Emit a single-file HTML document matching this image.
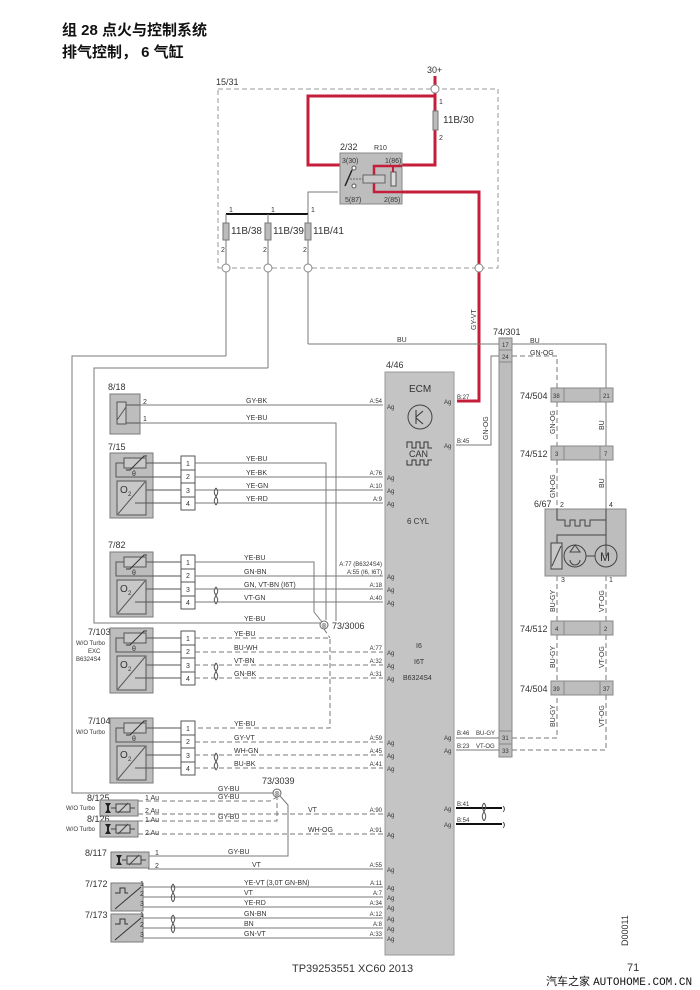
<!DOCTYPE html>
<html><head><meta charset="utf-8"><style>
body{margin:0;background:#fff;width:700px;height:990px;overflow:hidden}
svg{display:block}
text{font-family:"Liberation Sans","Noto Sans CJK SC",sans-serif;fill:#333}
.w{stroke:#7a7a7a;stroke-width:1;fill:none}
.d{stroke:#7a7a7a;stroke-width:1;fill:none;stroke-dasharray:5,3}
.r{stroke:#c41e3a;stroke-width:3;fill:none}
.s{font-size:7px}
.m{font-size:9px}
.l{font-size:10px}
.box{fill:#bdbdbd;stroke:#7a7a7a}
</style></head><body>
<svg width="700" height="990" viewBox="0 0 700 990" xmlns="http://www.w3.org/2000/svg">
<defs>
<g id="sen">
<rect x="0" y="0" width="43" height="65" class="box"/>
<rect x="14" y="5" width="22" height="10" fill="#c8c8c8" stroke="#555"/>
<polyline points="16,17 20,17 34,3 37,3" fill="none" stroke="#333"/>
<text x="22" y="23" class="s">θ</text>
<polyline points="14,10 6,10 6,24 71,24" class="w" style="stroke:#555"/>
<line x1="36" y1="10" x2="71" y2="10" stroke="#555"/>
<rect x="7" y="28" width="29" height="34" fill="#c8c8c8" stroke="#555"/>
<line x1="8" y1="61" x2="35" y2="29" stroke="#555"/>
<text x="10" y="40" style="font-size:10px">O</text><text x="18" y="43" style="font-size:6px">2</text>
<line x1="36" y1="37" x2="71" y2="37" stroke="#555"/>
<line x1="25" y1="50" x2="71" y2="50" stroke="#555"/>
<rect x="71" y="3" width="14" height="54" fill="#fff" stroke="#555"/>
<line x1="71" y1="17" x2="85" y2="17" stroke="#555"/><line x1="71" y1="30" x2="85" y2="30" stroke="#555"/><line x1="71" y1="44" x2="85" y2="44" stroke="#555"/>
<text x="76" y="13" class="s">1</text><text x="76" y="26" class="s">2</text><text x="76" y="40" class="s">3</text><text x="76" y="53" class="s">4</text>
<path d="M106,35 C100,42 112,45 106,52 M106,35 C112,42 100,45 106,52" fill="none" stroke="#555"/>
</g>
<g id="valve">
<rect x="0" y="0" width="38" height="16" class="box"/>
<path d="M5,3 h6 l-2,3 v4 l2,3 h-6 l2,-3 v-4 z" fill="#222"/>
<line x1="11" y1="8" x2="16" y2="8" stroke="#444"/>
<rect x="16" y="4" width="14" height="8" fill="#c8c8c8" stroke="#444"/>
<line x1="18" y1="13" x2="28" y2="3" stroke="#444"/>
<line x1="30" y1="8" x2="35" y2="8" stroke="#444"/>
</g>
<g id="hall">
<rect x="0" y="0" width="32" height="28" class="box"/>
<polyline points="4,10 9,10 9,5 14,5 14,10 17,10" fill="none" stroke="#333"/>
<line x1="4" y1="26" x2="30" y2="4" stroke="#333"/>
</g>
<path id="tw" d="M0,0 C-6,7 6,10 0,18 M0,0 C6,7 -6,10 0,18" fill="none" stroke="#555"/>
</defs>

<text x="62" y="35" style="font-size:15px;font-weight:bold;fill:#111">组 28 点火与控制系统</text>
<text x="62" y="57" style="font-size:15px;font-weight:bold;fill:#111">排气控制， 6 气缸</text>

<!-- 15/31 box -->
<rect x="218" y="89" width="280" height="179" fill="none" stroke="#999" stroke-dasharray="5,3"/>
<text x="216" y="85" class="m">15/31</text>
<text x="427" y="73" class="m">30+</text>
<polyline class="r" points="435,76 435,165 402,165"/>
<polyline class="r" points="435,96 308,96 308,165 340,165"/>
<rect x="340" y="153" width="62" height="51" fill="#bdbdbd" stroke="#888"/>
<text x="340" y="150" class="m">2/32</text><text x="374" y="150" class="s">R10</text>
<text x="342" y="163" class="s">3(30)</text><text x="385" y="163" class="s">1(86)</text>
<text x="345" y="202" class="s">5(87)</text><text x="384" y="202" class="s">2(85)</text>
<polyline class="r" style="stroke-width:2.5" points="402,166 374,166 374,192 402,192"/>
<rect x="391" y="172" width="5" height="14" fill="#ddd" stroke="#555"/>
<line x1="393" y1="166" x2="393" y2="172" stroke="#c41e3a" stroke-width="2"/>
<rect x="363" y="175" width="22" height="8" fill="#c8c8c8" stroke="#666"/>
<line x1="352" y1="170" x2="345" y2="186" stroke="#222" stroke-width="1.5"/>
<line x1="350" y1="179" x2="363" y2="179" stroke="#666" stroke-dasharray="2,1"/>
<circle cx="354" cy="168" r="2" fill="#fff" stroke="#555"/>
<circle cx="354" cy="186" r="2" fill="#fff" stroke="#555"/>
<polyline class="r" points="402,192 479,192 479,401 457,401"/>
<circle cx="435" cy="89" r="4" fill="#fff" stroke="#888"/>
<rect x="433" y="111" width="5" height="19" fill="#bbb" stroke="#777"/>
<text x="439" y="104" class="s">1</text><text x="439" y="140" class="s">2</text>
<text x="443" y="123" class="l">11B/30</text>
<polyline class="w" points="338,192 308,192 308,214"/>
<line x1="226" y1="214" x2="308" y2="214" stroke="#111" stroke-width="2"/>
<g class="w">
<line x1="226" y1="214" x2="226" y2="356"/><line x1="268" y1="214" x2="268" y2="368"/><line x1="308" y1="214" x2="308" y2="344"/>
</g>
<g fill="#bbb" stroke="#777">
<rect x="223" y="223" width="6" height="17"/><rect x="265" y="223" width="6" height="17"/><rect x="305" y="223" width="6" height="17"/>
</g>
<text x="229" y="212" class="s">1</text><text x="271" y="212" class="s">1</text><text x="311" y="212" class="s">1</text>
<text x="221" y="252" class="s">2</text><text x="263" y="252" class="s">2</text><text x="303" y="252" class="s">2</text>
<text x="231" y="234" class="l">11B/38</text><text x="273" y="234" class="l">11B/39</text><text x="313" y="234" class="l">11B/41</text>
<g fill="#fff" stroke="#888">
<circle cx="226" cy="268" r="4"/><circle cx="268" cy="268" r="4"/><circle cx="308" cy="268" r="4"/><circle cx="479" cy="268" r="4"/>
</g>
<text transform="translate(476,330) rotate(-90)" class="s">GY-VT</text>

<polyline class="w" points="226,356 72,356 72,793 277,793"/>
<polyline class="w" points="268,368 94,368 94,623 320,623"/>
<polyline class="w" points="308,344 499,344"/>
<text x="397" y="342" class="s">BU</text>

<!-- ECM -->
<rect x="385" y="372" width="69" height="583" fill="#c4c4c4" stroke="#999"/>
<text x="386" y="368" class="m">4/46</text>
<text x="409" y="392" class="l">ECM</text>
<circle cx="420" cy="417" r="12" fill="none" stroke="#444"/>
<path d="M416,410 v14 M416,417 l7,-6 M416,418 l7,6" fill="none" stroke="#333"/>
<polyline points="407,448 407,442 412,442 412,448 416,448 416,442 420,442 420,448 424,448 424,442 428,442 428,448 432,448" fill="none" stroke="#333"/>
<text x="409" y="457" class="m">CAN</text>
<polyline points="407,460 407,465 412,465 412,460 416,460 416,465 420,465 420,460 424,460 424,465 428,465 428,460 432,460" fill="none" stroke="#333"/>
<text x="407" y="524" class="s" style="font-size:8px">6 CYL</text>
<text x="416" y="648" class="s">I6</text><text x="414" y="664" class="s">I6T</text><text x="403" y="680" class="s">B6324S4</text>

<!-- 74/301 -->
<rect x="499" y="338" width="13" height="419" fill="#bdbdbd" stroke="#888"/>
<line x1="499" y1="350" x2="512" y2="350" stroke="#888"/><line x1="499" y1="362" x2="512" y2="362" stroke="#888"/>
<line x1="499" y1="731" x2="512" y2="731" stroke="#888"/><line x1="499" y1="744" x2="512" y2="744" stroke="#888"/>
<text x="502" y="347" style="font-size:6px">17</text><text x="502" y="359" style="font-size:6px">24</text>
<text x="502" y="740" style="font-size:6px">31</text><text x="502" y="753" style="font-size:6px">33</text>
<text x="493" y="335" class="m">74/301</text>
<polyline class="w" points="512,344 606,344 606,388"/><text x="530" y="343" class="s">BU</text>
<polyline class="d" points="512,356 557,356 557,388"/><text x="530" y="355" class="s">GN-OG</text>
<polyline class="w" points="499,356 491,356 491,445 456,445"/>
<text transform="translate(488,440) rotate(-90)" class="s">GN-OG</text>
<polyline class="d" points="512,738 557,738 557,695"/>
<polyline class="d" points="512,750 606,750 606,695"/>
<line class="w" x1="606" y1="402" x2="606" y2="446"/>
<line class="w" x1="606" y1="460" x2="606" y2="509"/>
<line class="d" x1="557" y1="402" x2="557" y2="446"/>
<line class="d" x1="557" y1="460" x2="557" y2="509"/>
<line class="d" x1="557" y1="576" x2="557" y2="621"/><line class="d" x1="606" y1="576" x2="606" y2="621"/>
<line class="d" x1="557" y1="635" x2="557" y2="681"/><line class="d" x1="606" y1="635" x2="606" y2="681"/>
<g class="s">
<text transform="translate(555,434) rotate(-90)">GN-OG</text><text transform="translate(604,430) rotate(-90)">BU</text>
<text transform="translate(555,498) rotate(-90)">GN-OG</text><text transform="translate(604,488) rotate(-90)">BU</text>
<text transform="translate(555,612) rotate(-90)">BU-GY</text><text transform="translate(604,612) rotate(-90)">VT-OG</text>
<text transform="translate(555,668) rotate(-90)">BU-GY</text><text transform="translate(604,668) rotate(-90)">VT-OG</text>
<text transform="translate(555,727) rotate(-90)">BU-GY</text><text transform="translate(604,727) rotate(-90)">VT-OG</text>
</g>
<g fill="#bdbdbd" stroke="#888">
<rect x="551" y="388" width="62" height="14"/><rect x="551" y="446" width="62" height="14"/>
<rect x="551" y="621" width="62" height="14"/><rect x="551" y="681" width="62" height="14"/>
</g>
<g stroke="#888"><line x1="564" y1="388" x2="564" y2="402"/><line x1="600" y1="388" x2="600" y2="402"/>
<line x1="564" y1="446" x2="564" y2="460"/><line x1="600" y1="446" x2="600" y2="460"/>
<line x1="564" y1="621" x2="564" y2="635"/><line x1="600" y1="621" x2="600" y2="635"/>
<line x1="564" y1="681" x2="564" y2="695"/><line x1="600" y1="681" x2="600" y2="695"/></g>
<g style="font-size:6px"><text x="553" y="398">38</text><text x="603" y="398">21</text><text x="555" y="456">3</text><text x="604" y="456">7</text>
<text x="555" y="631">4</text><text x="604" y="631">2</text><text x="553" y="691">39</text><text x="603" y="691">37</text></g>
<g class="m"><text x="520" y="399">74/504</text><text x="520" y="457">74/512</text><text x="520" y="632">74/512</text><text x="520" y="692">74/504</text></g>
<!-- 6/67 -->
<rect x="545" y="509" width="81" height="67" fill="#bdbdbd" stroke="#888"/>
<text x="534" y="507" class="m">6/67</text><text x="560" y="507" class="s">2</text><text x="609" y="507" class="s">4</text>
<text x="561" y="582" class="s">3</text><text x="609" y="582" class="s">1</text>
<polyline points="557,509 557,520 565,520 565,526 570,526 570,520 575,520 575,526 580,526 580,520 585,520 585,526 590,526 590,520 606,520" fill="none" stroke="#444"/>
<line x1="606" y1="509" x2="606" y2="556" stroke="#444"/>
<polyline points="606,535 557,535 557,543" fill="none" stroke="#444"/>
<rect x="551" y="543" width="11" height="26" fill="#c8c8c8" stroke="#444"/>
<line x1="552" y1="566" x2="561" y2="546" stroke="#444"/>
<circle cx="575" cy="556" r="11" fill="none" stroke="#444"/>
<path d="M570,552 l5,-7 l5,7 z M570,560 a5,5 0 0 0 10,0" fill="none" stroke="#444"/>
<line x1="586" y1="556" x2="595" y2="556" stroke="#444"/>
<circle cx="606" cy="556" r="11" fill="none" stroke="#444"/>
<text x="600" y="561" style="font-size:12px">M</text>

<!-- 8/18 -->
<text x="108" y="390" class="m">8/18</text>
<rect x="110" y="394" width="30" height="40" class="box"/>
<rect x="117" y="402" width="9" height="22" fill="#c8c8c8" stroke="#555"/>
<line x1="117" y1="420" x2="126" y2="407" stroke="#555"/>
<polyline points="126,405 140,405" stroke="#555"/>
<line x1="126" y1="423" x2="140" y2="423" stroke="#555"/>
<text x="143" y="404" class="s">2</text><text x="143" y="421" class="s">1</text>
<line class="w" x1="140" y1="405" x2="383" y2="405"/><text x="246" y="403" class="s">GY-BK</text>
<polyline class="w" points="140,423 336,423 336,621"/><text x="246" y="420" class="s">YE-BU</text>

<!-- sensors -->
<text x="108" y="450" class="m">7/15</text>
<use href="#sen" x="110" y="453"/>
<polyline class="w" points="195,463 326,463 326,620"/>
<line class="w" x1="195" y1="477" x2="383" y2="477"/>
<line class="w" x1="195" y1="490" x2="383" y2="490"/>
<line class="w" x1="195" y1="503" x2="383" y2="503"/>
<text x="246" y="461" class="s">YE-BU</text><text x="246" y="475" class="s">YE-BK</text><text x="246" y="488" class="s">YE-GN</text><text x="246" y="501" class="s">YE-RD</text>

<text x="108" y="548" class="m">7/82</text>
<use href="#sen" x="110" y="552"/>
<polyline class="w" points="195,562 314,562 314,612 322,622"/>
<line class="w" x1="195" y1="576" x2="383" y2="576"/>
<line class="w" x1="195" y1="589" x2="383" y2="589"/>
<line class="w" x1="195" y1="602" x2="383" y2="602"/>
<text x="244" y="560" class="s">YE-BU</text><text x="244" y="574" class="s">GN-BN</text><text x="244" y="587" class="s">GN, VT-BN (I6T)</text><text x="244" y="600" class="s">VT-GN</text>
<text x="244" y="621" class="s">YE-BU</text>
<circle cx="324" cy="625" r="4" fill="#fff" stroke="#666"/><text x="321" y="628" style="font-size:6px">⊗</text>
<text x="332" y="629" class="m">73/3006</text>

<text x="88" y="635" class="m">7/103</text>
<text x="76" y="645" style="font-size:6px">W/O Turbo</text><text x="88" y="653" style="font-size:6px">EXC</text><text x="76" y="661" style="font-size:6px">B6324S4</text>
<use href="#sen" x="110" y="628"/>
<polyline class="d" points="195,638 330,638 330,728 195,728"/>
<line class="d" x1="324" y1="629" x2="330" y2="638"/>
<line class="d" x1="195" y1="652" x2="383" y2="652"/>
<line class="d" x1="195" y1="665" x2="383" y2="665"/>
<line class="d" x1="195" y1="678" x2="383" y2="678"/>
<text x="234" y="636" class="s">YE-BU</text><text x="234" y="650" class="s">BU-WH</text><text x="234" y="663" class="s">VT-BN</text><text x="234" y="676" class="s">GN-BK</text>

<text x="88" y="724" class="m">7/104</text><text x="76" y="734" style="font-size:6px">W/O Turbo</text>
<use href="#sen" x="110" y="718"/>
<line class="d" x1="195" y1="742" x2="383" y2="742"/>
<line class="d" x1="195" y1="755" x2="383" y2="755"/>
<line class="d" x1="195" y1="768" x2="383" y2="768"/>
<text x="234" y="726" class="s">YE-BU</text><text x="234" y="740" class="s">GY-VT</text><text x="234" y="753" class="s">WH-GN</text><text x="234" y="766" class="s">BU-BK</text>

<!-- valves -->
<text x="262" y="784" class="m">73/3039</text>
<circle cx="277" cy="793" r="4" fill="#fff" stroke="#666"/><text x="274" y="796" style="font-size:6px">⊗</text>
<text x="218" y="791" class="s">GY-BU</text>
<text x="87" y="801" class="m">8/125</text><text x="66" y="810" style="font-size:6px">W/O Turbo</text>
<use href="#valve" x="100" y="800"/>
<text x="87" y="822" class="m">8/126</text><text x="66" y="831" style="font-size:6px">W/O Turbo</text>
<use href="#valve" x="100" y="821"/>
<g class="s"><text x="145" y="800">1 Au</text><text x="145" y="813">2 Au</text><text x="145" y="822">1 Au</text><text x="145" y="835">2 Au</text></g>
<polyline class="d" points="138,801 270,801 277,797"/><text x="218" y="799" class="s">GY-BU</text>
<polyline class="d" points="138,821 277,821 277,797"/><text x="218" y="819" class="s">GY-BU</text>
<line class="d" x1="138" y1="814" x2="383" y2="814"/><text x="308" y="812" class="s">VT</text>
<line class="d" x1="138" y1="834" x2="383" y2="834"/><text x="308" y="832" class="s">WH-OG</text>
<polyline class="w" points="280,796 288,805 288,856 148,856"/><text x="228" y="854" class="s">GY-BU</text>
<text x="85" y="856" class="m">8/117</text>
<use href="#valve" x="111" y="852"/>
<text x="155" y="855" class="s">1</text><text x="155" y="868" class="s">2</text>
<line class="w" x1="148" y1="869" x2="383" y2="869"/><text x="252" y="867" class="s">VT</text>

<text x="85" y="887" class="m">7/172</text>
<use href="#hall" x="111" y="883"/>
<text x="85" y="918" class="m">7/173</text>
<use href="#hall" x="111" y="914"/>
<g class="s"><text x="140" y="886">1</text><text x="140" y="896">2</text><text x="140" y="906">3</text><text x="140" y="917">1</text><text x="140" y="927">2</text><text x="140" y="937">3</text></g>
<g class="w"><line x1="143" y1="887" x2="383" y2="887"/><line x1="143" y1="897" x2="383" y2="897"/><line x1="143" y1="907" x2="383" y2="907"/>
<line x1="143" y1="918" x2="383" y2="918"/><line x1="143" y1="928" x2="383" y2="928"/><line x1="143" y1="938" x2="383" y2="938"/></g>
<use href="#tw" x="173" y="884"/><use href="#tw" x="173" y="915"/>
<g class="s"><text x="244" y="885">YE-VT   (3,0T  GN-BN)</text><text x="244" y="895">VT</text><text x="244" y="905">YE-RD</text>
<text x="244" y="916">GN-BN</text><text x="244" y="926">BN</text><text x="244" y="936">GN-VT</text></g>

<!-- ECM A pins -->
<g style="font-size:6px" text-anchor="end">
<text x="382" y="403">A:54</text><text x="382" y="475">A:76</text><text x="382" y="488">A:10</text><text x="382" y="501">A:9</text>
<text x="382" y="566">A:77 (B6324S4)</text><text x="382" y="574">A:55 (I6, I6T)</text><text x="382" y="587">A:18</text><text x="382" y="600">A:40</text>
<text x="382" y="650">A:77</text><text x="382" y="663">A:32</text><text x="382" y="676">A:31</text>
<text x="382" y="740">A:59</text><text x="382" y="753">A:45</text><text x="382" y="766">A:41</text>
<text x="382" y="812">A:90</text><text x="382" y="832">A:91</text><text x="382" y="867">A:55</text>
<text x="382" y="885">A:11</text><text x="382" y="895">A:7</text><text x="382" y="905">A:34</text><text x="382" y="916">A:12</text><text x="382" y="926">A:8</text><text x="382" y="936">A:33</text>
</g>
<g style="font-size:6px">
<text x="387" y="409">Ag</text><text x="387" y="480">Ag</text><text x="387" y="493">Ag</text><text x="387" y="506">Ag</text>
<text x="387" y="579">Ag</text><text x="387" y="592">Ag</text><text x="387" y="605">Ag</text>
<text x="387" y="655">Ag</text><text x="387" y="668">Ag</text><text x="387" y="681">Ag</text>
<text x="387" y="745">Ag</text><text x="387" y="758">Ag</text><text x="387" y="771">Ag</text>
<text x="387" y="817">Ag</text><text x="387" y="837">Ag</text><text x="387" y="872">Ag</text>
<text x="387" y="890">Ag</text><text x="387" y="900">Ag</text><text x="387" y="910">Ag</text><text x="387" y="921">Ag</text><text x="387" y="931">Ag</text><text x="387" y="941">Ag</text>
<text x="444" y="404">Ag</text><text x="444" y="448">Ag</text><text x="444" y="740">Ag</text><text x="444" y="753">Ag</text>
<text x="444" y="811">Ag</text><text x="444" y="827">Ag</text>
<text x="457" y="399">B:27</text><text x="457" y="443">B:45</text><text x="457" y="735">B:46</text><text x="457" y="748">B:23</text>
<text x="457" y="806">B:41</text><text x="457" y="822">B:54</text>
<text x="476" y="735">BU-GY</text><text x="476" y="748">VT-OG</text>
</g>
<line class="w" x1="456" y1="738" x2="499" y2="738"/><line class="w" x1="456" y1="750" x2="499" y2="750"/>
<line x1="456" y1="808" x2="502" y2="808" stroke="#111" stroke-width="2"/>
<line x1="456" y1="824" x2="502" y2="824" stroke="#111" stroke-width="2"/>
<use href="#tw" x="484" y="803"/>
<path d="M503,806 q3,3 0,6 M503,822 q3,3 0,6" fill="none" stroke="#555"/>

<text transform="translate(628,946) rotate(-90)" style="font-size:9px">D00011</text>
<text x="292" y="972" style="font-size:11px">TP39253551 XC60 2013</text>
<text x="627" y="971" style="font-size:11px">71</text>
<text x="546" y="985" style="font-size:11px;fill:#111">汽车之家 <tspan style="font-family:'Liberation Mono',monospace">AUTOHOME.COM.CN</tspan></text>
</svg>
</body></html>
